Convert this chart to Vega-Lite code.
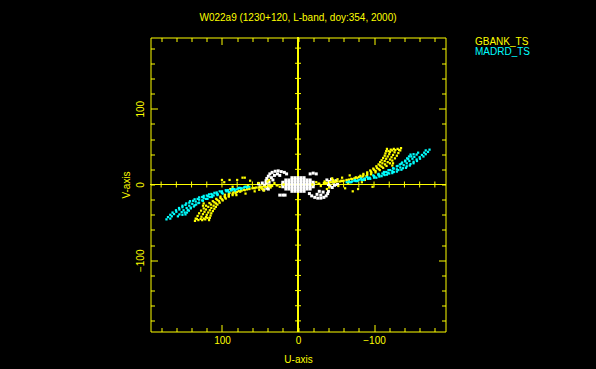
{
"$schema":"https://vega.github.io/schema/vega-lite/v6.json",
"width":295,"height":294,
"autosize":{"type":"none"},
"padding":{"left":150.5,"top":37.5,"right":150.5,"bottom":37.5},
"background":"#000000",
"title":{"text":"W022a9 (1230+120, L-band, doy:354, 2000)","color":"#ffff00","font":"Liberation Sans","fontSize":10,"fontWeight":"normal","anchor":"middle","baseline":"alphabetic","offset":6},
"config":{
 "view":{"stroke":"#ffff00","strokeWidth":1},
 "axis":{"domain":false,"grid":false,"labelFont":"Liberation Sans","labelFontSize":10,"labelColor":"#ffff00","titleFont":"Liberation Sans","titleFontSize":10,"titleFontWeight":"normal","titleColor":"#ffff00","tickColor":"#ffff00","tickWidth":1},
 "legend":{"labelFont":"Liberation Sans","labelFontSize":10}
},
"datasets":{
 "ticks":[{"t":-180},{"t":-160},{"t":-140},{"t":-120},{"t":-100},{"t":-80},{"t":-60},{"t":-40},{"t":-20},{"t":20},{"t":40},{"t":60},{"t":80},{"t":100},{"t":120},{"t":140},{"t":160},{"t":180}],
 "gbank":[
{"u":-19,"v":0},{"u":-27,"v":1},{"u":-34,"v":2},{"u":-42,"v":3},{"u":-49,"v":4},{"u":-57,"v":5},{"u":-64,"v":6},{"u":-70,"v":7.5},{"u":-76,"v":9.5},{"u":-82,"v":11.5},{"u":-86,"v":14},{"u":-91,"v":16},{"u":-95,"v":18.5},{"u":-99,"v":21},{"u":-103,"v":24},{"u":-106,"v":26.5},{"u":-108,"v":29.5},{"u":-110,"v":32},{"u":-112,"v":35},{"u":-114,"v":38},{"u":-115,"v":41},{"u":-116,"v":44},
{"u":-28,"v":1},{"u":-36,"v":2},{"u":-44,"v":3},{"u":-52,"v":4},{"u":-60,"v":5},{"u":-67,"v":6.5},{"u":-74,"v":8},{"u":-80,"v":10},{"u":-86,"v":12},{"u":-91,"v":14.5},{"u":-96,"v":17},{"u":-100,"v":19.5},{"u":-104,"v":22},{"u":-108,"v":25},{"u":-111,"v":28},{"u":-114,"v":31},{"u":-116,"v":34},{"u":-118,"v":37},{"u":-120,"v":40},{"u":-121,"v":43},{"u":-122,"v":46},
{"u":-38,"v":2},{"u":-47,"v":3},{"u":-55,"v":4},{"u":-64,"v":5.5},{"u":-71,"v":7},{"u":-78,"v":8.5},{"u":-85,"v":10.5},{"u":-91,"v":12.5},{"u":-96.5,"v":15.5},{"u":-102,"v":18},{"u":-106,"v":20.5},{"u":-110,"v":23.5},{"u":-114.5,"v":26.5},{"u":-118,"v":29.5},{"u":-121,"v":33},{"u":-123,"v":36},{"u":-125,"v":39},{"u":-127,"v":42.5},{"u":-128,"v":45.5},
{"u":-49,"v":3.5},{"u":-58,"v":4.5},{"u":-67,"v":5.5},{"u":-75,"v":7.5},{"u":-83,"v":9},{"u":-90,"v":11},{"u":-96,"v":13.5},{"u":-102,"v":16},{"u":-107.5,"v":19},{"u":-112,"v":22},{"u":-116.5,"v":24.5},{"u":-121,"v":28},{"u":-124,"v":31.5},{"u":-127.5,"v":34.5},{"u":-130,"v":38},{"u":-132,"v":41.5},{"u":-134.5,"v":45},{"u":-135.5,"v":48},
{"u":-124,"v":45},{"u":-126,"v":47},{"u":-131,"v":47},{"u":-133,"v":45.5},{"u":-119,"v":44},{"u":-117,"v":47},{"u":-125,"v":28},{"u":-124,"v":25},
{"u":-24,"v":3},{"u":-30,"v":-2},{"u":-35,"v":4},{"u":-41,"v":-4},{"u":-46,"v":6},{"u":-53,"v":-2},{"u":-58,"v":9},{"u":-62,"v":-5},{"u":-68,"v":12},{"u":-72,"v":-9},{"u":-79,"v":-6},{"u":-84,"v":3},{"u":-98,"v":-3},{"u":-88,"v":6},{"u":-66,"v":2},{"u":-45,"v":8},{"u":-38,"v":-6},{"u":-52,"v":7},
{"u":19,"v":0},{"u":27,"v":-1},{"u":34,"v":-2},{"u":42,"v":-3},{"u":49,"v":-4},{"u":57,"v":-5},{"u":64,"v":-6},{"u":70,"v":-7.5},{"u":76,"v":-9.5},{"u":82,"v":-11.5},{"u":86,"v":-14},{"u":91,"v":-16},{"u":95,"v":-18.5},{"u":99,"v":-21},{"u":103,"v":-24},{"u":106,"v":-26.5},{"u":108,"v":-29.5},{"u":110,"v":-32},{"u":112,"v":-35},{"u":114,"v":-38},{"u":115,"v":-41},{"u":116,"v":-44},
{"u":28,"v":-1},{"u":36,"v":-2},{"u":44,"v":-3},{"u":52,"v":-4},{"u":60,"v":-5},{"u":67,"v":-6.5},{"u":74,"v":-8},{"u":80,"v":-10},{"u":86,"v":-12},{"u":91,"v":-14.5},{"u":96,"v":-17},{"u":100,"v":-19.5},{"u":104,"v":-22},{"u":108,"v":-25},{"u":111,"v":-28},{"u":114,"v":-31},{"u":116,"v":-34},{"u":118,"v":-37},{"u":120,"v":-40},{"u":121,"v":-43},{"u":122,"v":-46},
{"u":38,"v":-2},{"u":47,"v":-3},{"u":55,"v":-4},{"u":64,"v":-5.5},{"u":71,"v":-7},{"u":78,"v":-8.5},{"u":85,"v":-10.5},{"u":91,"v":-12.5},{"u":96.5,"v":-15.5},{"u":102,"v":-18},{"u":106,"v":-20.5},{"u":110,"v":-23.5},{"u":114.5,"v":-26.5},{"u":118,"v":-29.5},{"u":121,"v":-33},{"u":123,"v":-36},{"u":125,"v":-39},{"u":127,"v":-42.5},{"u":128,"v":-45.5},
{"u":49,"v":-3.5},{"u":58,"v":-4.5},{"u":67,"v":-5.5},{"u":75,"v":-7.5},{"u":83,"v":-9},{"u":90,"v":-11},{"u":96,"v":-13.5},{"u":102,"v":-16},{"u":107.5,"v":-19},{"u":112,"v":-22},{"u":116.5,"v":-24.5},{"u":121,"v":-28},{"u":124,"v":-31.5},{"u":127.5,"v":-34.5},{"u":130,"v":-38},{"u":132,"v":-41.5},{"u":134.5,"v":-45},{"u":135.5,"v":-48},
{"u":124,"v":-45},{"u":126,"v":-47},{"u":131,"v":-47},{"u":133,"v":-45.5},{"u":119,"v":-44},{"u":117,"v":-47},{"u":125,"v":-28},{"u":124,"v":-25},
{"u":24,"v":-3},{"u":31,"v":2},{"u":36,"v":-4},{"u":40,"v":4},{"u":47,"v":-6},{"u":52,"v":2},{"u":57,"v":-9},{"u":63,"v":5},{"u":69,"v":-12},{"u":73,"v":9},{"u":80,"v":6},{"u":86,"v":-3},{"u":97,"v":3},{"u":89,"v":-6},{"u":66,"v":-2},{"u":45,"v":-8},{"u":38,"v":6},{"u":51,"v":-7},{"u":100,"v":6},{"u":90,"v":6},{"u":70,"v":9},{"u":81,"v":-14}
 ],
 "madrd":[
{"u":-70,"v":3},{"u":-78,"v":4.5},{"u":-86.5,"v":6},{"u":-95,"v":7.5},{"u":-103,"v":9},{"u":-110,"v":11},{"u":-117,"v":13},{"u":-124,"v":15},{"u":-130,"v":17},{"u":-136,"v":19.5},{"u":-142,"v":22},{"u":-147,"v":25},{"u":-152,"v":28},{"u":-156.5,"v":31},{"u":-160.5,"v":34},{"u":-165,"v":37},{"u":-168,"v":40},{"u":-171,"v":43},{"u":-173,"v":46},
{"u":-68,"v":3},{"u":-76,"v":4.5},{"u":-84,"v":6},{"u":-92,"v":7.5},{"u":-100,"v":9},{"u":-107,"v":10.5},{"u":-114,"v":12.5},{"u":-120,"v":14.5},{"u":-126,"v":16.5},{"u":-132,"v":19},{"u":-138,"v":21.5},{"u":-143,"v":24},{"u":-148,"v":27},{"u":-152,"v":30},{"u":-156,"v":33},{"u":-160,"v":36},{"u":-163,"v":39},{"u":-166,"v":42},{"u":-168,"v":45},
{"u":-64,"v":3},{"u":-71,"v":4},{"u":-79,"v":5.5},{"u":-86.5,"v":7},{"u":-94,"v":8.5},{"u":-100.5,"v":10},{"u":-107,"v":12},{"u":-113,"v":13.5},{"u":-118.5,"v":15.5},{"u":-124,"v":18},{"u":-130,"v":20},{"u":-134.5,"v":22.5},{"u":-139,"v":25.5},{"u":-143,"v":28},{"u":-146.5,"v":31},{"u":-150.5,"v":34},{"u":-153,"v":36.5},{"u":-156,"v":39.5},{"u":-158,"v":42},
{"u":-67,"v":4},{"u":-74,"v":5},{"u":-81,"v":6.5},{"u":-88,"v":8},{"u":-94,"v":9},{"u":-100,"v":11},{"u":-105.5,"v":13},{"u":-111,"v":14.5},{"u":-116,"v":16.5},{"u":-121,"v":19},{"u":-126,"v":21},{"u":-130,"v":24},{"u":-134,"v":26.5},{"u":-137,"v":29},{"u":-141,"v":31.5},{"u":-143.5,"v":34.5},{"u":-146,"v":37},{"u":-148,"v":39.5},
{"u":-75,"v":6},{"u":-83,"v":8},{"u":-91,"v":10},{"u":-99,"v":12},{"u":-106,"v":14},{"u":-113,"v":16.5},{"u":-119,"v":19},{"u":-125,"v":21.5},{"u":-131,"v":24.5},{"u":-136,"v":27.5},{"u":-141,"v":30.5},{"u":-145,"v":33.5},{"u":-149,"v":37},{"u":-152,"v":40},
{"u":70,"v":-3},{"u":78,"v":-4.5},{"u":86.5,"v":-6},{"u":95,"v":-7.5},{"u":103,"v":-9},{"u":110,"v":-11},{"u":117,"v":-13},{"u":124,"v":-15},{"u":130,"v":-17},{"u":136,"v":-19.5},{"u":142,"v":-22},{"u":147,"v":-25},{"u":152,"v":-28},{"u":156.5,"v":-31},{"u":160.5,"v":-34},{"u":165,"v":-37},{"u":168,"v":-40},{"u":171,"v":-43},{"u":173,"v":-46},
{"u":68,"v":-3},{"u":76,"v":-4.5},{"u":84,"v":-6},{"u":92,"v":-7.5},{"u":100,"v":-9},{"u":107,"v":-10.5},{"u":114,"v":-12.5},{"u":120,"v":-14.5},{"u":126,"v":-16.5},{"u":132,"v":-19},{"u":138,"v":-21.5},{"u":143,"v":-24},{"u":148,"v":-27},{"u":152,"v":-30},{"u":156,"v":-33},{"u":160,"v":-36},{"u":163,"v":-39},{"u":166,"v":-42},{"u":168,"v":-45},
{"u":64,"v":-3},{"u":71,"v":-4},{"u":79,"v":-5.5},{"u":86.5,"v":-7},{"u":94,"v":-8.5},{"u":100.5,"v":-10},{"u":107,"v":-12},{"u":113,"v":-13.5},{"u":118.5,"v":-15.5},{"u":124,"v":-18},{"u":130,"v":-20},{"u":134.5,"v":-22.5},{"u":139,"v":-25.5},{"u":143,"v":-28},{"u":146.5,"v":-31},{"u":150.5,"v":-34},{"u":153,"v":-36.5},{"u":156,"v":-39.5},{"u":158,"v":-42},
{"u":67,"v":-4},{"u":74,"v":-5},{"u":81,"v":-6.5},{"u":88,"v":-8},{"u":94,"v":-9},{"u":100,"v":-11},{"u":105.5,"v":-13},{"u":111,"v":-14.5},{"u":116,"v":-16.5},{"u":121,"v":-19},{"u":126,"v":-21},{"u":130,"v":-24},{"u":134,"v":-26.5},{"u":137,"v":-29},{"u":141,"v":-31.5},{"u":143.5,"v":-34.5},{"u":146,"v":-37},{"u":148,"v":-39.5},
{"u":75,"v":-6},{"u":83,"v":-8},{"u":91,"v":-10},{"u":99,"v":-12},{"u":106,"v":-14},{"u":113,"v":-16.5},{"u":119,"v":-19},{"u":125,"v":-21.5},{"u":131,"v":-24.5},{"u":136,"v":-27.5},{"u":141,"v":-30.5},{"u":145,"v":-33.5},{"u":149,"v":-37},{"u":152,"v":-40}
 ],
 "other":[
{"u":-20,"v":0},{"u":-16,"v":0},{"u":-12,"v":0},{"u":-8,"v":0},{"u":-4,"v":0},{"u":0,"v":0},{"u":4,"v":0},{"u":8,"v":0},{"u":12,"v":0},{"u":16,"v":0},{"u":20,"v":0},
{"u":-20,"v":3},{"u":-16,"v":3},{"u":-12,"v":3},{"u":-8,"v":3},{"u":-4,"v":3},{"u":0,"v":3},{"u":4,"v":3},{"u":8,"v":3},{"u":12,"v":3},{"u":16,"v":3},{"u":20,"v":3},
{"u":-20,"v":-3},{"u":-16,"v":-3},{"u":-12,"v":-3},{"u":-8,"v":-3},{"u":-4,"v":-3},{"u":0,"v":-3},{"u":4,"v":-3},{"u":8,"v":-3},{"u":12,"v":-3},{"u":16,"v":-3},{"u":20,"v":-3},
{"u":-16,"v":6},{"u":-12,"v":6},{"u":-8,"v":6},{"u":-4,"v":6},{"u":0,"v":6},{"u":4,"v":6},{"u":8,"v":6},{"u":12,"v":6},{"u":16,"v":6},
{"u":-16,"v":-6},{"u":-12,"v":-6},{"u":-8,"v":-6},{"u":-4,"v":-6},{"u":0,"v":-6},{"u":4,"v":-6},{"u":8,"v":-6},{"u":12,"v":-6},{"u":16,"v":-6},
{"u":-8,"v":9},{"u":-4,"v":9},{"u":0,"v":9},{"u":4,"v":9},{"u":8,"v":9},
{"u":-8,"v":-9},{"u":-4,"v":-9},{"u":0,"v":-9},{"u":4,"v":-9},{"u":8,"v":-9},
{"u":42,"v":5},{"u":41,"v":8},{"u":39,"v":11},{"u":37,"v":14},{"u":34,"v":16},{"u":30,"v":17.5},{"u":26,"v":18},{"u":22,"v":17},{"u":18,"v":16},{"u":15,"v":14},{"u":38,"v":3},{"u":35,"v":9},{"u":31,"v":12},{"u":27,"v":14},{"u":24,"v":12},{"u":33,"v":6},
{"u":-15,"v":-12},{"u":-18,"v":-15},{"u":-22,"v":-17},{"u":-26,"v":-18},{"u":-30,"v":-18},{"u":-34,"v":-17},{"u":-37,"v":-15},{"u":-39,"v":-12},{"u":-40,"v":-9},{"u":-25,"v":-13},{"u":-30,"v":-14},{"u":-33,"v":-10},{"u":-28,"v":-9},
{"u":-16,"v":14},{"u":-20,"v":15},{"u":-24,"v":14},{"u":24,"v":-14},{"u":20,"v":-14},{"u":17,"v":-14},
{"u":-38,"v":6},{"u":-41,"v":4},{"u":-44,"v":7},{"u":-47,"v":3},{"u":-50,"v":5},{"u":-42,"v":-2},{"u":-45,"v":-4},{"u":-48,"v":-1},{"u":-40,"v":0},{"u":-52,"v":0},
{"u":38,"v":-2},{"u":41,"v":-5},{"u":44,"v":-1},{"u":47,"v":2},{"u":50,"v":-3},{"u":42,"v":2},{"u":45,"v":-7},{"u":39,"v":-6},{"u":52,"v":1}
 ]
},
"resolve":{"axis":{"x":"independent","y":"independent"}},
"layer":[
 {"data":{"name":"ticks"},"mark":{"type":"rule","color":"#ffff00","strokeWidth":1},
  "encoding":{"x":{"datum":0,"type":"quantitative","scale":{"domain":[-194,194],"reverse":true,"nice":false,"zero":false},"axis":null}}},
 {"data":{"name":"ticks"},"mark":{"type":"rule","color":"#ffff00","strokeWidth":1},
  "encoding":{"y":{"datum":0,"type":"quantitative","scale":{"domain":[-194,194],"nice":false,"zero":false},"axis":null}}},
 {"data":{"name":"ticks"},"mark":{"type":"tick","orient":"vertical","size":6,"thickness":1,"color":"#ffff00","opacity":1},
  "encoding":{"x":{"field":"t","type":"quantitative","scale":{"domain":[-194,194],"reverse":true,"nice":false,"zero":false},"axis":null},
   "y":{"datum":0,"type":"quantitative","scale":{"domain":[-194,194],"nice":false,"zero":false},"axis":null}}},
 {"data":{"name":"ticks"},"mark":{"type":"tick","orient":"horizontal","size":6,"thickness":1,"color":"#ffff00","opacity":1},
  "encoding":{"y":{"field":"t","type":"quantitative","scale":{"domain":[-194,194],"nice":false,"zero":false},"axis":null},
   "x":{"datum":0,"type":"quantitative","scale":{"domain":[-194,194],"reverse":true,"nice":false,"zero":false},"axis":null}}},
 {"data":{"name":"other"},"mark":{"type":"square","size":9,"opacity":1},
  "encoding":{
   "x":{"field":"u","type":"quantitative","scale":{"domain":[-194,194],"reverse":true,"nice":false,"zero":false},
     "axis":{"orient":"top","values":[-180,-160,-140,-120,-100,-80,-60,-40,-20,0,20,40,60,80,100,120,140,160,180],"labels":false,"title":null,"tickSize":{"condition":{"test":"abs(datum.value)==100","value":-7},"value":-4}}},
   "y":{"field":"v","type":"quantitative","scale":{"domain":[-194,194],"nice":false,"zero":false},
     "axis":{"orient":"right","values":[-180,-160,-140,-120,-100,-80,-60,-40,-20,0,20,40,60,80,100,120,140,160,180],"labels":false,"title":null,"tickSize":{"condition":{"test":"abs(datum.value)==100","value":-7},"value":-4}}},
   "color":{"datum":"other","type":"nominal"}}},
 {"data":{"name":"gbank"},"mark":{"type":"square","size":5,"opacity":1},
  "encoding":{
   "x":{"field":"u","type":"quantitative","scale":{"domain":[-194,194],"reverse":true,"nice":false,"zero":false},
     "axis":{"orient":"bottom","values":[-100,0,100],"ticks":false,"labelPadding":4,"title":"U-axis","titlePadding":9}},
   "y":{"field":"v","type":"quantitative","scale":{"domain":[-194,194],"nice":false,"zero":false},
     "axis":{"orient":"left","values":[-100,0,100],"ticks":false,"labelAngle":-90,"labelPadding":5,"title":"V-axis","titlePadding":4}},
   "color":{"datum":"GBANK_TS","type":"nominal",
     "scale":{"domain":["GBANK_TS","MADRD_TS","other"],"range":["#ffff00","#00ffff","#ffffff"]},
     "legend":{"values":["GBANK_TS","MADRD_TS"],"title":null,"orient":"none","legendX":314.5,"legendY":-1,"padding":0,"symbolSize":0,"symbolOpacity":0,"symbolStrokeWidth":0,"labelOffset":0,"rowPadding":0,
       "encode":{"labels":{"update":{"fill":{"scale":"color","field":"value"}}}}}}}},
 {"data":{"name":"madrd"},"mark":{"type":"square","size":5,"opacity":1},
  "encoding":{
   "x":{"field":"u","type":"quantitative","scale":{"domain":[-194,194],"reverse":true,"nice":false,"zero":false},
     "axis":{"orient":"bottom","values":[-180,-160,-140,-120,-100,-80,-60,-40,-20,0,20,40,60,80,100,120,140,160,180],"labels":false,"title":null,"tickSize":{"condition":{"test":"abs(datum.value)==100","value":-7},"value":-4}}},
   "y":{"field":"v","type":"quantitative","scale":{"domain":[-194,194],"nice":false,"zero":false},
     "axis":{"orient":"left","values":[-180,-160,-140,-120,-100,-80,-60,-40,-20,0,20,40,60,80,100,120,140,160,180],"labels":false,"title":null,"tickSize":{"condition":{"test":"abs(datum.value)==100","value":-7},"value":-4}}},
   "color":{"datum":"MADRD_TS","type":"nominal"}}}
]
}
